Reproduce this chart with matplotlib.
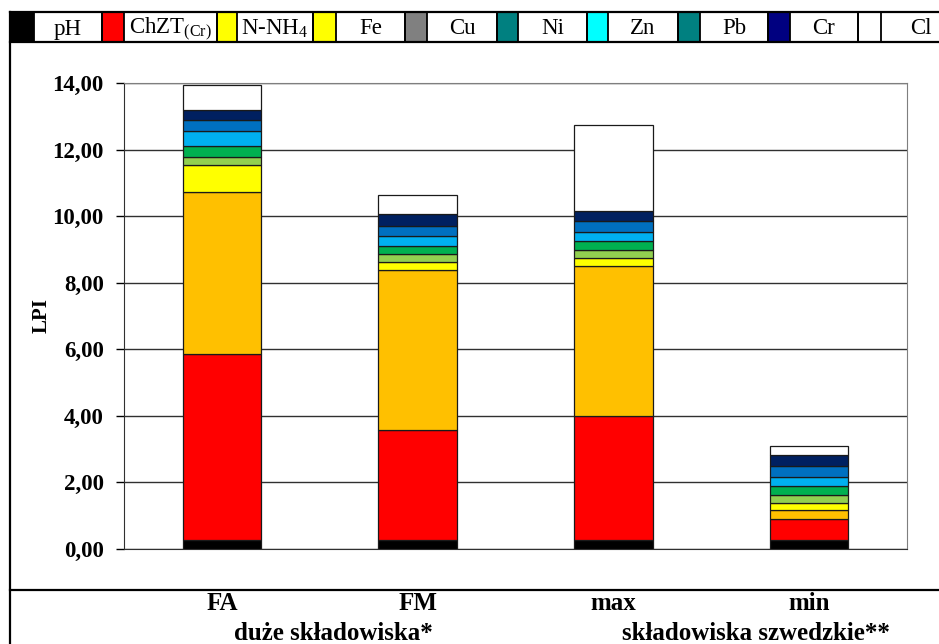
import matplotlib.pyplot as plt
from matplotlib.lines import Line2D
from matplotlib.patches import Rectangle
from matplotlib.ticker import FuncFormatter
import matplotlib.transforms as mtransforms

plt.rcParams['font.family'] = ['Liberation Serif', 'DejaVu Serif']
plt.rcParams['mathtext.fontset'] = 'custom'
plt.rcParams['mathtext.rm'] = 'Liberation Serif'

categories = ["FA", "FM", "max", "min"]
groups = ["duże składowiska*", "składowiska szwedzkie**"]
series = ["pH", r"ChZT$_{\mathrm{(Cr)}}$", r"N-NH$_{\mathrm{4}}$", "Fe", "Cu",
          "Ni", "Zn", "Pb", "Cr", "Cl"]

ph = [0.28, 0.28, 0.28, 0.28]
chzt = [5.57, 3.29, 3.72, 0.62]
nnh4 = [4.88, 4.81, 4.51, 0.26]
fe = [0.80, 0.23, 0.23, 0.21]
cu = [0.25, 0.24, 0.25, 0.25]
ni = [0.33, 0.26, 0.26, 0.27]
zn = [0.45, 0.29, 0.28, 0.28]
pb = [0.32, 0.31, 0.31, 0.32]
cr = [0.32, 0.34, 0.32, 0.32]
cl = [0.73, 0.59, 2.58, 0.28]
values = [ph, chzt, nnh4, fe, cu, ni, zn, pb, cr, cl]

bar_colors = ["#000000", "#FF0000", "#FFC000", "#FFFF00", "#92D050",
              "#00B050", "#00B0F0", "#0070C0", "#002060", "#FFFFFF"]
key_colors = ["#000000", "#FF0000", "#FFFF00", "#FFFF00", "#808080",
              "#008080", "#00FFFF", "#008080", "#000080", "#FFFFFF"]

W, H = 939, 644
fig = plt.figure(figsize=(W / 100, H / 100), dpi=100)


def fx(px):
    return px / W


def fy(py):
    return 1 - py / H


ax = fig.add_axes([fx(124), fy(549), fx(907) - fx(124), fy(83) - fy(549)])

x = range(len(categories))
bottom = [0.0] * len(categories)
for vals, col in zip(values, bar_colors):
    ax.bar(x, vals, 0.40, bottom=bottom, color=col, edgecolor="#1a1a1a",
           linewidth=0.9, zorder=3)
    bottom = [b + v for b, v in zip(bottom, vals)]

ax.set_xlim(-0.5, len(categories) - 0.5)
ax.set_ylim(0, 14)
ax.set_yticks(range(0, 15, 2))
ax.yaxis.set_major_formatter(FuncFormatter(lambda v, p: f"{v:.2f}".replace(".", ",")))
ax.set_xticks([])
ax.grid(axis="y", color="#303030", linewidth=1.0, zorder=0)
ax.tick_params(axis="y", direction="out", length=6, width=1, pad=8.5,
               labelsize=16.5)
for lab in ax.get_yticklabels():
    lab.set_fontweight("bold")
for s in ["top", "right"]:
    ax.spines[s].set_color("#7f7f7f")
ax.spines["left"].set_color("#303030")
ax.spines["bottom"].set_color("#303030")

fig.text(fx(42), (fy(83) + fy(549)) / 2, "LPI", rotation=90, ha="center",
         va="center", fontsize=15, fontweight="bold")

# category and group labels below the plot
trans = mtransforms.blended_transform_factory(ax.transData, fig.transFigure)
for i, c in enumerate(categories):
    ax.text(i, fy(604), c, transform=trans, ha="center", va="center",
            fontsize=18, fontweight="bold")
group_x = [0.57, 2.73]
for gx, g in zip(group_x, groups):
    ax.text(gx, fy(633), g, transform=trans, ha="center", va="center",
            fontsize=18, fontweight="bold")

# frame lines
lw = 1.6
fig.add_artist(Line2D([fx(10), fx(10)], [fy(12), fy(644)], color="black", lw=lw))
fig.add_artist(Line2D([fx(10), 1], [fy(12), fy(12)], color="black", lw=lw))
fig.add_artist(Line2D([fx(10), 1], [fy(42), fy(42)], color="black", lw=lw))
fig.add_artist(Line2D([fx(10), 1], [fy(590), fy(590)], color="black", lw=lw))

# legend row as table: swatch cell + text cell
edges = [10, 34, 102, 124, 217, 237, 313, 336, 405, 427, 497, 518, 587,
         608, 678, 700, 768, 790, 858, 881, 960]
for k, name in enumerate(series):
    x0, x1, x2 = edges[2 * k], edges[2 * k + 1], edges[2 * k + 2]
    fig.add_artist(Rectangle((fx(x0), fy(42)), fx(x1) - fx(x0), fy(12) - fy(42),
                             facecolor=key_colors[k], edgecolor="black", lw=1.3))
    fig.add_artist(Line2D([fx(x2), fx(x2)], [fy(12), fy(42)], color="black", lw=1.3))
    fig.text((fx(x1) + fx(x2)) / 2, fy(29), name, ha="center", va="center",
             fontsize=16.5)

fig.savefig("out.png", dpi=100)
